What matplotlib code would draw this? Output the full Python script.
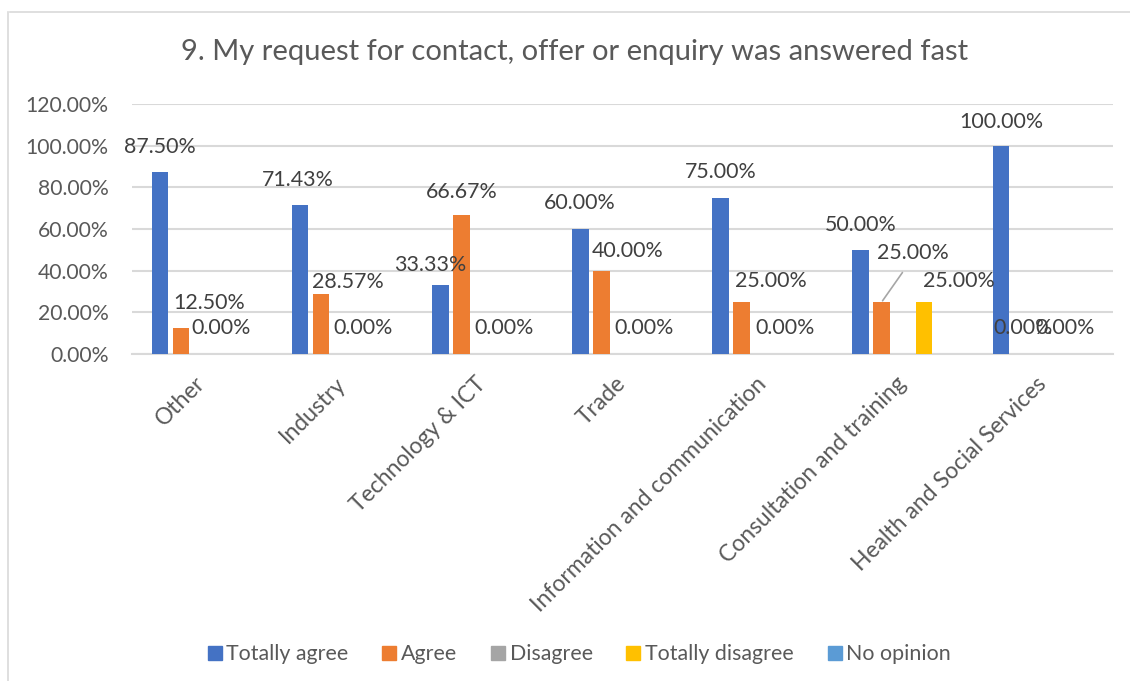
import numpy as np
import matplotlib
matplotlib.use("Agg")
import matplotlib.pyplot as plt
from matplotlib.lines import Line2D

categories = [
    "Other",
    "Industry",
    "Technology & ICT",
    "Trade",
    "Information and communication",
    "Consultation and training",
    "Health and Social Services",
]
series_names = ["Totally agree", "Agree", "Disagree", "Totally disagree", "No opinion"]
totally_agree = [87.50, 71.43, 33.33, 60.00, 75.00, 50.00, 100.00]
agree = [12.50, 28.57, 66.67, 40.00, 25.00, 25.00, 0.00]
disagree = [0.00, 0.00, 0.00, 0.00, 0.00, 0.00, 0.00]
totally_disagree = [0.00, 0.00, 0.00, 0.00, 0.00, 25.00, 0.00]
no_opinion = [0.00, 0.00, 0.00, 0.00, 0.00, 0.00, 0.00]
y_ticks = [0, 20, 40, 60, 80, 100, 120]

# which data labels Excel shows: (series index, category index)
shown_labels = (
    [(0, c) for c in range(7)]
    + [(1, c) for c in range(7)]
    + [(2, c) for c in range(7) if c != 5]
    + [(3, 5)]
)

colors = ["#4472C4", "#ED7D31", "#A5A5A5", "#FFC000", "#5B9BD5"]
text_color = "#595959"
grid_color = "#D9D9D9"
font = ["Lato", "DejaVu Sans"]

# label offsets in pixels (dx, dy) from bar top centre, hand-placed like the source
offsets = {
    0: [(0, 25), (-2, 25), (-10, 20), (-1, 26), (0, 26), (0, 25), (0, 24)],
    1: [(28, 25), (27, 12), (0, 23), (26, 20), (29, 21), (31, 49), (1, 26)],
    2: [(19, 26), (21, 26), (22, 26), (22, 26), (22, 26), (0, 0), (22, 26)],
    3: {5: (35, 21)},
}


def main() -> None:
    plt.rcParams["font.family"] = font
    values = [totally_agree, agree, disagree, totally_disagree, no_opinion]

    fig = plt.figure(figsize=(11.3, 6.81), dpi=100)
    ax = fig.add_axes([132 / 1130, 1 - 354 / 681, (1113 - 132) / 1130, 250 / 681])

    x = np.arange(len(categories))
    slot = 0.15
    width = 0.118
    bars = []
    for j, vals in enumerate(values):
        b = ax.bar(x + (j - 2) * slot, vals, width, color=colors[j],
                   label=series_names[j], zorder=3)
        bars.append(b)

    for s, c in shown_labels:
        rect = bars[s][c]
        bx = rect.get_x() + rect.get_width() / 2
        by = rect.get_height()
        off = offsets[s][c]
        kw = {}
        if s == 1 and c == 5:
            kw["arrowprops"] = dict(arrowstyle="-", color="#A6A6A6", lw=1.2,
                                    relpos=(0.45, 0), shrinkA=6, shrinkB=1)
        ax.annotate(f"{values[s][c]:.2f}%", (bx, by), xytext=off,
                    textcoords="offset pixels", ha="center", va="center",
                    fontsize=15.4, color="#404040", zorder=5, **kw)

    ax.set_xlim(-0.5, len(categories) - 0.5)
    ax.set_ylim(0, 120)
    ax.set_yticks(y_ticks)
    ax.set_yticklabels([f"{t:.2f}%" for t in y_ticks])
    ax.yaxis.grid(True, color=grid_color, lw=1.5, zorder=0)
    ax.set_axisbelow(True)
    for side in ["top", "right", "left"]:
        ax.spines[side].set_visible(False)
    ax.spines["bottom"].set_color(grid_color)
    ax.spines["bottom"].set_linewidth(1.5)
    ax.tick_params(axis="both", length=0, colors=text_color, labelsize=15.2)
    ax.tick_params(axis="y", pad=17)
    ax.set_xticks(x)
    ax.set_xticklabels(categories, rotation=45, ha="right",
                       rotation_mode="anchor", va="center", fontsize=16.5)
    ax.tick_params(axis="x", pad=19)

    fig.text(575 / 1130, 1 - 52 / 681, "9. My request for contact, offer or enquiry was answered fast",
             ha="center", va="center", fontsize=21, color=text_color)

    handles = [Line2D([], [], marker="s", linestyle="none", markersize=9.5,
                      markerfacecolor=colors[j], markeredgecolor=colors[j])
               for j in range(5)]
    fig.legend(handles, series_names, loc="center", bbox_to_anchor=(0.513, 1 - 654 / 681),
               ncol=5, frameon=False, fontsize=15.4, labelcolor=text_color,
               handlelength=0.6, handletextpad=0.25, columnspacing=1.6)

    # chart area border (top and left visible in the source)
    fig.add_artist(Line2D([10 / 1130, 1], [1 - 12 / 681, 1 - 12 / 681],
                          transform=fig.transFigure, color=grid_color, lw=1.2))
    fig.add_artist(Line2D([8 / 1130, 8 / 1130], [0, 1 - 12 / 681],
                          transform=fig.transFigure, color=grid_color, lw=1.2))

    fig.savefig("out.png", dpi=100, facecolor="white")


if __name__ == "__main__":
    main()
